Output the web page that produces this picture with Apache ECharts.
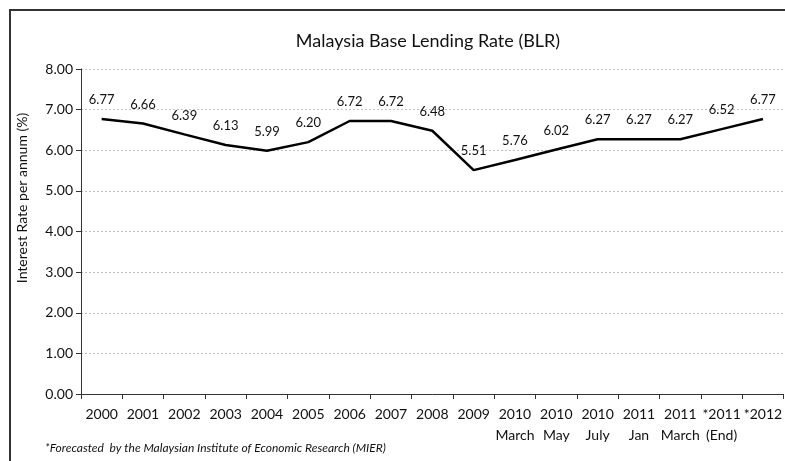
<!DOCTYPE html>
<html>
<head>
<meta charset="utf-8">
<script src="https://cdn.jsdelivr.net/npm/echarts@6/dist/echarts.min.js"></script>
<style>
  body { margin: 0; background: #fff; }
  #wrap { position: relative; width: 785px; height: 461px; overflow: hidden; }
  #chart { width: 785px; height: 461px; }
  #frame {
    position: absolute; left: 9px; top: 9px; right: 0; bottom: 0;
    border-left: 2px solid #333; border-top: 2px solid #333;
    pointer-events: none;
  }
</style>
</head>
<body>
<div id="wrap">
  <div id="chart"></div>
  <div id="frame"></div>
</div>
<script>
  // periods on the x axis
  var periods = ['2000', '2001', '2002', '2003', '2004', '2005', '2006', '2007', '2008', '2009',
    '2010\nMarch', '2010\nMay', '2010\nJuly', '2011\nJan', '2011\nMarch', '*2011\n(End)', '*2012'];
  // base lending rate, % per annum
  var blr = [6.77, 6.66, 6.39, 6.13, 5.99, 6.20, 6.72, 6.72, 6.48, 5.51, 5.76, 6.02, 6.27, 6.27, 6.27, 6.52, 6.77];

  var font = 'Lato';
  var chart = echarts.init(document.getElementById('chart'));
  chart.setOption({
    animation: false,
    title: {
      text: 'Malaysia Base Lending Rate (BLR)',
      left: 423, top: 27, textAlign: 'center',
      textStyle: { fontFamily: font, fontSize: 18, fontWeight: 'normal', color: '#111' }
    },
    graphic: [{
      type: 'text', left: 45, top: 442,
      style: {
        text: '*Forecasted  by the Malaysian Institute of Economic Research (MIER)',
        font: 'italic 12px Lato', fill: '#111'
      }
    }, {
      type: 'text', x: 22, y: 198, rotation: Math.PI / 2,
      style: {
        text: 'Interest Rate per annum (%)',
        font: '14px Lato', fill: '#111', align: 'center', verticalAlign: 'middle'
      }
    }],
    grid: { left: 81, right: -4, top: 69, bottom: 67 },
    xAxis: {
      type: 'category',
      data: periods,
      boundaryGap: true,
      axisLine: { lineStyle: { color: '#333', width: 1 } },
      axisTick: { show: true, length: 5, lineStyle: { color: '#333' } },
      axisLabel: {
        interval: 0, margin: 10, color: '#111',
        fontFamily: font, fontSize: 14, lineHeight: 21
      }
    },
    yAxis: {
      type: 'value',
      min: 0, max: 8, interval: 1,
      axisLine: { show: true, lineStyle: { color: '#333', width: 1 } },
      axisTick: { show: true, length: 5, lineStyle: { color: '#333' } },
      axisLabel: {
        margin: 8, color: '#111', fontFamily: font, fontSize: 14,
        formatter: function (v) { return v.toFixed(2); }
      },
      splitLine: { show: true, lineStyle: { color: '#c0c0c0', width: 1, type: [2, 2] } }
    },
    series: [{
      type: 'line',
      data: blr,
      symbol: 'circle',
      symbolSize: 1,
      showSymbol: true,
      itemStyle: { color: 'rgba(0,0,0,0)' },
      lineStyle: { color: '#000', width: 2.5 },
      label: {
        show: true, position: 'top', distance: 12,
        color: '#111', fontFamily: font, fontSize: 13,
        formatter: function (p) { return p.value.toFixed(2); }
      }
    }]
  });
</script>
</body>
</html>
